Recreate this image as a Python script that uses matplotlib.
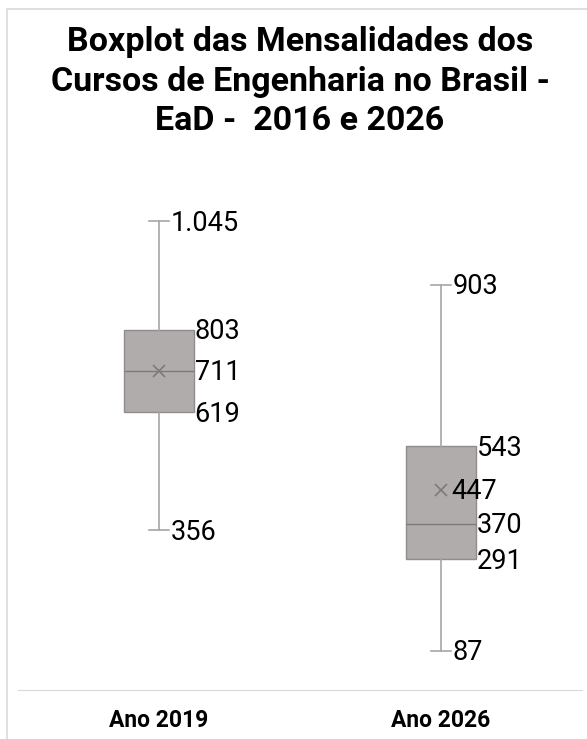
import matplotlib.pyplot as plt
from matplotlib.patches import Rectangle

# dados do gráfico
categorias = ['Ano 2019', 'Ano 2026']
minimos = [356, 87]
quartil1 = [619, 291]
medianas = [711, 370]
quartil3 = [803, 543]
maximos = [1045, 903]
medias = [711, 447]


def fmt(v):
    # separador de milhar no padrão brasileiro
    return f'{v:,}'.replace(',', '.')


plt.rcParams['font.family'] = ['Roboto', 'DejaVu Sans']

fig = plt.figure(figsize=(5.87, 7.39), dpi=100)
W, H = 587, 739
ax = fig.add_axes([18 / W, 1 - 690 / H, 564 / W, 493.4 / H])

# moldura do gráfico
fig.patches.append(Rectangle((7 / W, -0.1), 1.1, 1 - 9 / H + 0.1, transform=fig.transFigure,
                             fill=False, edgecolor='#d9d9d9', linewidth=1.2))

stats = []
for i in range(len(categorias)):
    stats.append({'whislo': minimos[i], 'q1': quartil1[i], 'med': medianas[i],
                  'q3': quartil3[i], 'whishi': maximos[i], 'mean': medias[i],
                  'label': categorias[i]})

ax.bxp(stats, positions=[0, 1], widths=0.248, showmeans=True, patch_artist=True,
       showfliers=False,
       boxprops=dict(facecolor='#b0acab', edgecolor='#8f8c8b', linewidth=1),
       medianprops=dict(color='#7d7a79', linewidth=1),
       whiskerprops=dict(color='#a6a6a6', linewidth=1.2),
       capprops=dict(color='#a6a6a6', linewidth=1.2),
       capwidths=0.07,
       meanprops=dict(marker='x', markeredgecolor='#7d7a79', markersize=9, markeredgewidth=1.2))

ax.set_xlim(-0.5, 1.5)
ax.set_ylim(0, 1100)

# rótulos dos valores
fs = 19.5
for i in range(len(categorias)):
    cap_x = i + 0.04
    box_x = i + 0.126
    ax.text(cap_x, maximos[i] - 4, fmt(maximos[i]), fontsize=fs, va='center', ha='left')
    ax.text(cap_x, minimos[i] - 4, fmt(minimos[i]), fontsize=fs, va='center', ha='left')
    ax.text(box_x, quartil3[i] - 4, fmt(quartil3[i]), fontsize=fs, va='center', ha='left')
    ax.text(box_x, quartil1[i] - 4, fmt(quartil1[i]), fontsize=fs, va='center', ha='left')
    ax.text(box_x, medianas[i] - 4, fmt(medianas[i]), fontsize=fs, va='center', ha='left')
    if medias[i] != medianas[i]:
        ax.text(i + 0.035, medias[i] - 4, fmt(medias[i]), fontsize=fs, va='center', ha='left')

for s in ['top', 'right', 'left']:
    ax.spines[s].set_visible(False)
ax.spines['bottom'].set_color('#d9d9d9')
ax.set_yticks([])
ax.set_xticks([0, 1])
ax.set_xticklabels(categorias, fontsize=16.5, fontweight='bold')
ax.tick_params(axis='x', length=0, pad=14)

fig.text(300 / W, 1 - 26 / H, 'Boxplot das Mensalidades dos\nCursos de Engenharia no Brasil -\nEaD -  2016 e 2026',
         ha='center', va='top', fontsize=24.5, fontweight='bold', linespacing=1.3)

fig.savefig('out.png', dpi=100)
